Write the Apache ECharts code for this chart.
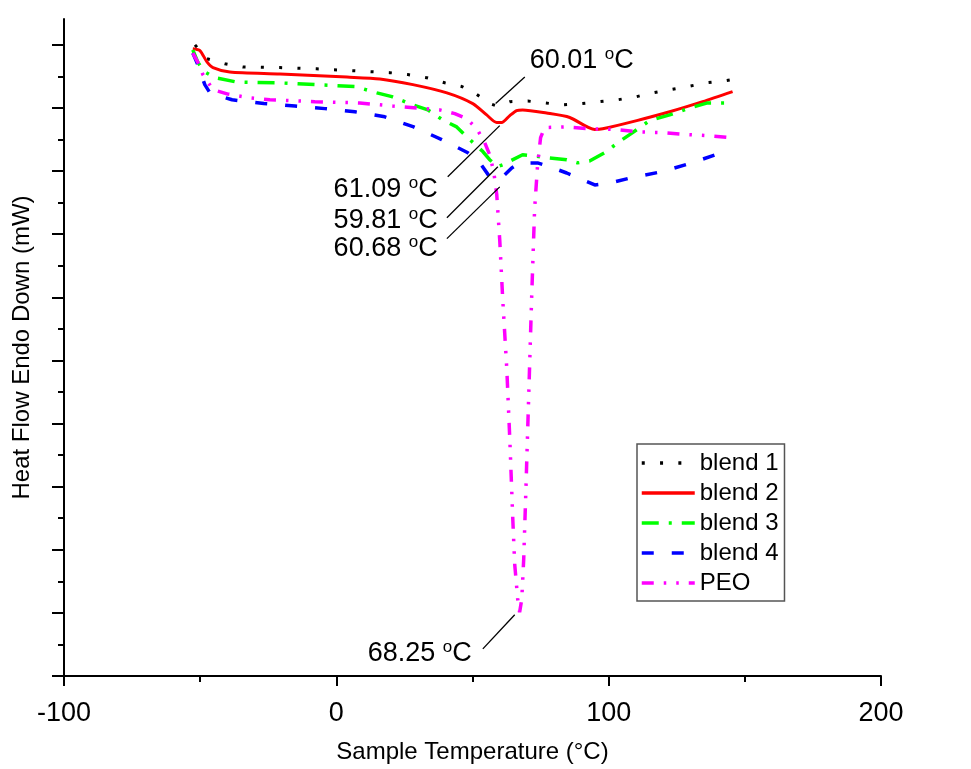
<!DOCTYPE html>
<html><head><meta charset="utf-8">
<script src="https://cdn.jsdelivr.net/npm/echarts@6/dist/echarts.min.js"></script>
<style>html,body{margin:0;padding:0;background:#fff}#c{width:971px;height:769px}</style>
</head><body><div id="c"></div>
<script>
// Temperature (°C), heat flow (arbitrary units: one y major tick = 1)
const blend1 = [[-51.9,10.0],[-47.5,9.78],[-40.9,9.70],[-34.3,9.65],[-20.7,9.64],[-7.2,9.62],[6.1,9.59],[19.6,9.56],[26.2,9.53],[33.2,9.48],[39.8,9.40],[46.1,9.34],[50.8,9.24],[56.3,9.07],[58.9,9.03],[61.8,9.07],[63.7,9.10],[70.3,9.11],[76.5,9.08],[83.1,9.05],[90.1,9.07],[96.7,9.10],[103.3,9.13],[110.3,9.18],[116.1,9.24],[122.4,9.29],[129.0,9.34],[136.0,9.40],[142.6,9.43],[145.5,9.45]];
const blend2 = [[-52.7,9.94],[-50.1,9.91],[-47.5,9.73],[-45.3,9.64],[-39.1,9.57],[-20.7,9.54],[3.9,9.49],[16.0,9.46],[28.1,9.37],[40.6,9.24],[50.1,9.07],[55.2,8.89],[58.9,8.77],[60.7,8.77],[63.7,8.88],[66.2,8.96],[68.4,8.97],[77.2,8.92],[85.7,8.85],[94.9,8.66],[97.8,8.67],[110.3,8.80],[122.4,8.94],[134.5,9.10],[145.5,9.26]];
const blend3 = [[-52.7,9.92],[-50.8,9.72],[-48.3,9.57],[-44.6,9.48],[-36.5,9.41],[-21.8,9.40],[-7.9,9.37],[6.8,9.34],[14.9,9.24],[20.4,9.18],[28.1,9.05],[33.6,8.97],[39.1,8.81],[44.2,8.70],[49.0,8.50],[53.8,8.31],[56.3,8.18],[59.3,8.07],[61.1,8.10],[68.4,8.26],[72.8,8.24],[77.6,8.21],[84.6,8.18],[88.6,8.13],[93.0,8.16],[98.5,8.29],[104.0,8.47],[108.8,8.61],[115.0,8.80],[122.4,8.89],[129.7,9.00],[136.3,9.08],[145.5,9.08]];
const blend4 = [[-52.7,9.87],[-50.8,9.68],[-48.3,9.37],[-46.4,9.24],[-38.3,9.13],[-26.6,9.07],[-15.2,9.03],[-4.2,8.99],[6.8,8.94],[17.8,8.86],[28.4,8.70],[38.7,8.50],[48.3,8.29],[52.7,8.13],[56.3,7.91],[58.9,7.88],[61.8,7.94],[64.4,8.05],[67.3,8.13],[73.9,8.13],[78.3,8.07],[84.6,7.97],[89.4,7.88],[94.9,7.78],[100.4,7.81],[108.8,7.90],[119.4,7.99],[130.5,8.13],[140.7,8.28],[143.5,8.33]];
const peo = [[-52.7,9.87],[-50.8,9.72],[-49.0,9.53],[-45.3,9.29],[-39.8,9.22],[-31.7,9.16],[-24.4,9.13],[-7.9,9.10],[8.6,9.08],[20.7,9.03],[29.5,9.00],[38.0,8.97],[43.5,8.91],[47.9,8.83],[51.6,8.67],[54.5,8.45],[56.3,8.26],[57.8,7.99],[58.9,7.63],[60.0,6.91],[61.1,5.97],[62.6,4.86],[63.7,3.75],[64.8,2.48],[65.5,1.77],[66.6,1.22],[67.3,1.01],[68.1,1.22],[68.8,1.85],[69.5,2.80],[70.6,4.38],[71.7,5.97],[72.8,7.39],[73.9,8.10],[75.0,8.53],[76.5,8.69],[83.8,8.70],[93.8,8.67],[102.2,8.66],[111.4,8.62],[119.8,8.61],[128.6,8.58],[137.1,8.56],[145.1,8.53]];

const seriesNames = ['blend 1','blend 2','blend 3','blend 4','PEO'];
const xTicks = [-100, 0, 100, 200];
const yMajorTicks = [0,1,2,3,4,5,6,7,8,9,10];
const yMinorTicks = [0.5,1.5,2.5,3.5,4.5,5.5,6.5,7.5,8.5,9.5];

// annotations: peak temperature text, leader line (from curve to text), text anchor
const annTexts = ['60.01', '61.09', '59.81', '60.68', '68.25'];
const annLines = [
  [[58.5,9.07],[69.2,9.49]],
  [[60.0,8.72],[40.9,7.91]],
  [[59.3,8.07],[40.6,7.26]],
  [[60.0,7.75],[40.6,6.93]],
  [[65.5,0.97],[53.8,0.43]]
];
const annAnchors = [[71.0,9.75],[37.2,7.71],[37.2,7.22],[37.2,6.77],[49.7,0.35]];
const annSides = ['right','left','left','left','left'];

const FONT = "'Liberation Sans', Arial, sans-serif";
const chart = echarts.init(document.getElementById('c'), null, {renderer:'canvas'});

const styles = [
  {color:'#000000', width:3, type:[3,15.3]},
  {color:'#ff0000', width:3, type:'solid', smooth:0.25},
  {color:'#00ff00', width:3.5, type:[17,10,3,10]},
  {color:'#0000ff', width:3.5, type:[12,18]},
  {color:'#ff00ff', width:3.5, type:[12,10,2.5,10,2.5,10]}
];
const datas = [blend1, blend2, blend3, blend4, peo];

const series = datas.map((d,i)=>({
  name: seriesNames[i], type:'line', data:d, showSymbol:false, symbol:'none',
  smooth: styles[i].smooth || false, silent:true, animation:false,
  lineStyle:{color:styles[i].color, width:styles[i].width, type:styles[i].type, cap:'butt'},
  itemStyle:{color:styles[i].color}
}));

annLines.forEach((l)=>{
  series.push({type:'line', data:l, symbol:'none', silent:true, animation:false,
    lineStyle:{color:'#000', width:1.3}, z:5});
});

series.push({
  type:'scatter', symbolSize:0, silent:true, animation:false, z:6,
  itemStyle:{opacity:1},
  data: annAnchors.map((p,i)=>({
    value:p,
    label:{show:true, position:annSides[i], distance:0, color:'#000', opacity:1,
      formatter:'{a|'+annTexts[i]+' }{s|o}{a|C}',
      rich:{
        a:{fontSize:27, fontFamily:FONT, color:'#000', lineHeight:30},
        s:{fontSize:17, fontFamily:FONT, color:'#000', verticalAlign:'top', lineHeight:18}
      }}
  }))
});

chart.setOption({
  animation:false,
  backgroundColor:'#fff',
  textStyle:{fontFamily:FONT},
  grid:{left:64, right:90, top:19, bottom:92, containLabel:false},
  legend:{
    orient:'vertical', left:637, top:444, itemWidth:53, itemHeight:14, itemGap:6,
    padding:[7,6,6,3], borderColor:'#555', borderWidth:1.5, backgroundColor:'#fff',
    itemStyle:{opacity:0, color:'rgba(0,0,0,0)', borderWidth:0},
    lineStyle:{width:3.5},
    textStyle:{fontSize:24, color:'#000', fontFamily:FONT},
    data:seriesNames
  },
  xAxis:{
    type:'value', min:xTicks[0], max:xTicks[xTicks.length-1], interval:100,
    name:'Sample Temperature (°C)', nameLocation:'middle', nameGap:64,
    nameTextStyle:{fontSize:24, color:'#000', fontFamily:FONT},
    axisLine:{show:true, onZero:false, lineStyle:{color:'#000', width:2}},
    axisTick:{show:true, length:10, lineStyle:{color:'#000', width:2}},
    minorTick:{show:true, splitNumber:2, length:6, lineStyle:{color:'#000', width:2}},
    axisLabel:{fontSize:27, color:'#000', margin:24, fontFamily:FONT},
    splitLine:{show:false}
  },
  yAxis:[{
    type:'value', min:0, max:10.41,
    name:'Heat Flow Endo Down (mW)', nameLocation:'middle', nameGap:30,
    nameTextStyle:{fontSize:24, color:'#000', fontFamily:FONT},
    axisLine:{show:true, onZero:false, lineStyle:{color:'#000', width:2}},
    axisTick:{show:true, length:12, customValues:yMajorTicks, lineStyle:{color:'#000', width:2}},
    axisLabel:{show:false},
    splitLine:{show:false}
  },{
    type:'value', min:0, max:10.41, position:'left', offset:0,
    axisLine:{show:false, onZero:false},
    axisTick:{show:true, length:6, customValues:yMinorTicks, lineStyle:{color:'#000', width:2}},
    axisLabel:{show:false},
    splitLine:{show:false}
  }],
  series: series
});
</script>
</body></html>
